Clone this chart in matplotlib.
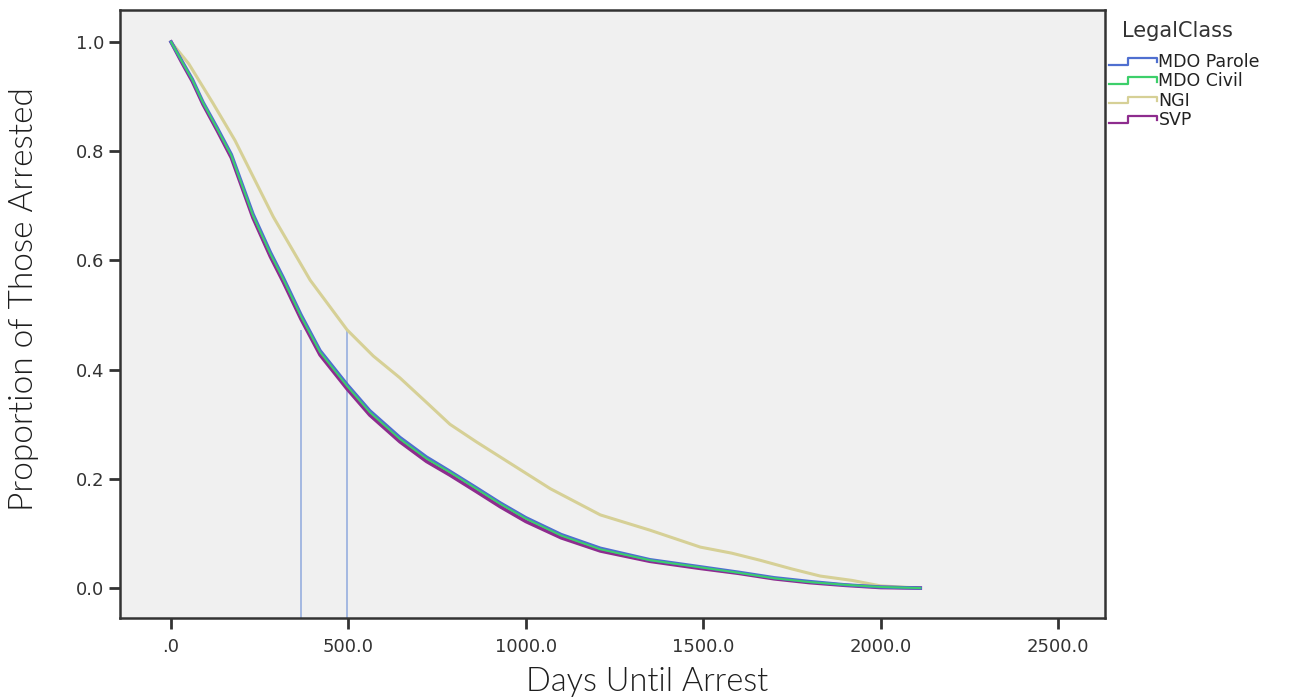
import matplotlib
matplotlib.use("Agg")
import matplotlib.pyplot as plt
from matplotlib.legend_handler import HandlerBase
from matplotlib.lines import Line2D

# survival curves (days, proportion)
days_main = [0, 30, 60, 90, 130, 170, 231, 280, 316, 366, 420, 496, 560, 645,
             720, 786, 860, 928, 1000, 1100, 1210, 1350, 1492, 1600, 1700, 1800,
             1900, 2000, 2112]
parole = [1.0, 0.966, 0.932, 0.890, 0.843, 0.794, 0.685, 0.615, 0.569, 0.501,
          0.435, 0.373, 0.325, 0.276, 0.240, 0.214, 0.184, 0.156, 0.129, 0.098,
          0.073, 0.052, 0.039, 0.029, 0.019, 0.012, 0.006, 0.002, 0.0]
civil = [1.0, 0.965, 0.931, 0.889, 0.841, 0.792, 0.682, 0.612, 0.566, 0.498,
         0.432, 0.370, 0.322, 0.273, 0.237, 0.212, 0.182, 0.154, 0.127, 0.096,
         0.071, 0.051, 0.038, 0.028, 0.018, 0.011, 0.006, 0.002, 0.0]
svp = [1.0, 0.963, 0.928, 0.886, 0.838, 0.788, 0.678, 0.607, 0.561, 0.493,
       0.427, 0.365, 0.317, 0.268, 0.232, 0.207, 0.177, 0.149, 0.122, 0.092,
       0.068, 0.049, 0.036, 0.027, 0.017, 0.010, 0.005, 0.001, 0.0]

days_ngi = [0, 50, 118, 180, 288, 392, 496, 570, 645, 720, 786, 860, 928, 1069,
            1210, 1350, 1492, 1580, 1660, 1750, 1830, 1920, 2000, 2112]
ngi = [1.0, 0.96, 0.888, 0.82, 0.68, 0.564, 0.473, 0.425, 0.385, 0.340, 0.300,
       0.268, 0.240, 0.182, 0.134, 0.106, 0.075, 0.064, 0.051, 0.035, 0.022,
       0.014, 0.004, 0.0]

ref_days = [366, 496]
ref_top = 0.473

labels = ["MDO Parole", "MDO Civil", "NGI", "SVP"]
colors = ["#4f6fd0", "#3ccf6a", "#d6d096", "#8e2c8e"]

xticks = [0, 500, 1000, 1500, 2000, 2500]
xtick_labels = [".0", "500.0", "1000.0", "1500.0", "2000.0", "2500.0"]
yticks = [0.0, 0.2, 0.4, 0.6, 0.8, 1.0]
ytick_labels = ["0.0", "0.2", "0.4", "0.6", "0.8", "1.0"]


class StepHandler(HandlerBase):
    # little step glyph like the SPSS legend
    def create_artists(self, legend, orig_handle, xdescent, ydescent,
                       width, height, fontsize, trans):
        x0 = -xdescent
        y0 = -ydescent
        xs = [x0, x0 + 0.4 * width, x0 + 0.4 * width, x0 + width, x0 + width]
        ys = [y0 + 0.2 * height, y0 + 0.2 * height, y0 + 0.75 * height,
              y0 + 0.75 * height, y0 + 0.4 * height]
        ln = Line2D(xs, ys, color=orig_handle.get_color(), lw=1.6,
                    transform=trans)
        return [ln]


fig = plt.figure(figsize=(13.1, 7), dpi=100)
ax = fig.add_axes([0.0916, 0.117, 0.752, 0.869])
ax.set_facecolor("#f0f0f0")

ax.vlines(ref_days, -0.055, ref_top, color="#9db4e0", lw=1.3, zorder=1)

ax.plot(days_ngi, ngi, color=colors[2], lw=2.2, zorder=2)
ax.plot(days_main, svp, color=colors[3], lw=2.6, zorder=3)
ax.plot(days_main, parole, color=colors[0], lw=2.4, zorder=4)
ax.plot(days_main, civil, color=colors[1], lw=1.4, zorder=5)

ax.set_xlim(-144, 2633)
ax.set_ylim(-0.055, 1.059)
ax.set_xticks(xticks)
ax.set_xticklabels(xtick_labels)
ax.set_yticks(yticks)
ax.set_yticklabels(ytick_labels)

for sp in ax.spines.values():
    sp.set_color("#333333")
    sp.set_linewidth(1.8)
ax.tick_params(axis="both", direction="out", length=8, width=2,
               color="#333333", labelsize=13, labelcolor="#333333")
ax.tick_params(axis="x", pad=6)
for lbl in ax.get_xticklabels() + ax.get_yticklabels():
    lbl.set_family("DejaVu Sans")

ax.set_xlabel("Days Until Arrest", fontsize=23.5, family="Lato",
              fontweight=300, color="#1e1e1e")
ax.xaxis.set_label_coords(0.535, -0.08)
ax.set_ylabel("Proportion of Those Arrested", fontsize=24, family="Lato",
              fontweight=300, color="#1e1e1e")
ax.yaxis.set_label_coords(-0.082, 0.525)

fig.text(1122 / 1310, 1 - 31 / 700, "LegalClass", fontsize=15,
         family="DejaVu Sans", color="#333333", va="center", ha="left")

handles = [Line2D([], [], color=c) for c in colors]
leg = fig.legend(handles, labels, loc="upper left",
                 bbox_to_anchor=(1109 / 1310, 1 - 53 / 700), frameon=False,
                 handler_map={Line2D: StepHandler()},
                 prop={"family": "DejaVu Sans", "size": 12.5},
                 handlelength=2.75, handletextpad=0.1, labelspacing=0.08,
                 borderpad=0.0, borderaxespad=0.0)
for t in leg.get_texts():
    t.set_color("#222222")

fig.savefig("out.png", dpi=100, facecolor="white")
